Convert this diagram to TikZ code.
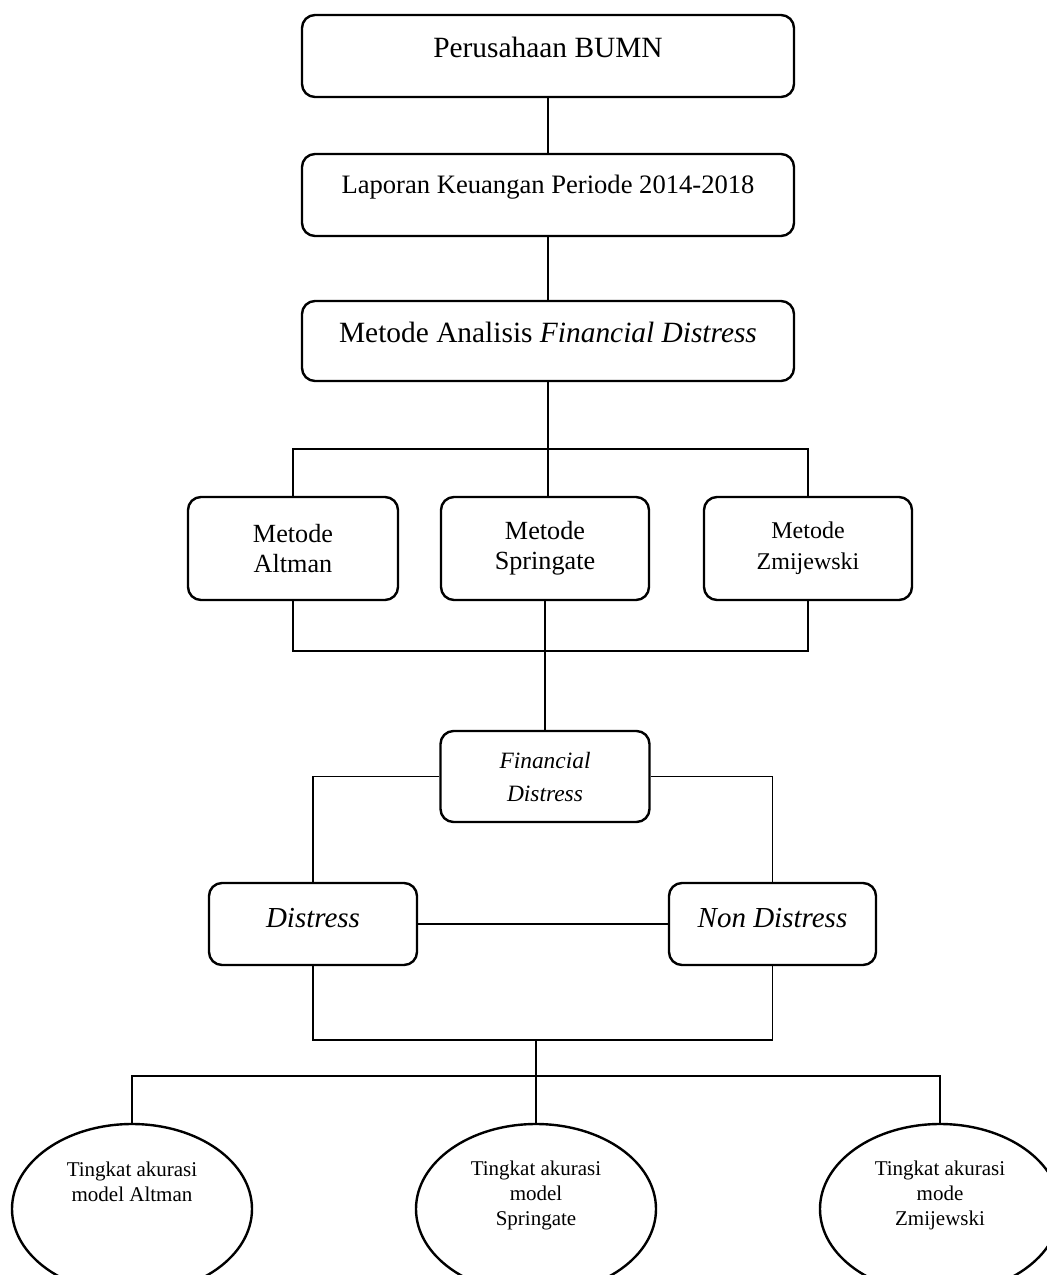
\documentclass[tikz,border=0pt]{standalone}
\usepackage{fontspec}
\setmainfont{Liberation Serif}
\usetikzlibrary{shapes.geometric}
\begin{document}
\begin{tikzpicture}[x=0.5pt,y=-0.5pt,
  box/.style={draw=black,line width=1.2pt,rounded corners=6.5pt,inner sep=0pt,align=center},
  oval/.style={draw=black,line width=1.2pt,ellipse,inner sep=0pt,minimum width=120pt,minimum height=85pt},
  ltext/.style={align=center,font=\fontsize{10.5}{12.5}\selectfont,inner sep=0pt},
  conn/.style={draw=black,line width=0.65pt}]
\useasboundingbox (0,0) rectangle (1047,1275);
\clip (0,0) rectangle (1047,1275);

\node[box,minimum width=246pt,minimum height=41pt,font=\fontsize{14.7}{17}\selectfont,text height=10pt,text depth=8.3pt] (b1) at (548,56) {Perusahaan BUMN};
\node[box,minimum width=246pt,minimum height=41pt,font=\fontsize{13.3}{16}\selectfont,text height=9pt,text depth=10.2pt] (b2) at (548,195) {Laporan Keuangan Periode 2014-2018};
\node[box,minimum width=246pt,minimum height=40pt,font=\fontsize{14.7}{17}\selectfont,text height=10pt,text depth=8.3pt] (b3) at (548,341) {Metode Analisis \textit{Financial Distress}};

\node[box,minimum width=105pt,minimum height=51.5pt,font=\fontsize{13.1}{15}\selectfont] (m1) at (293,548.5) {Metode\\Altman};
\node[box,minimum width=104pt,minimum height=51.5pt,font=\fontsize{13.1}{15}\selectfont] (m2) at (545,548.5) {Metode\\Springate};
\node[box,minimum width=104pt,minimum height=51.5pt,font=\fontsize{12}{15.5}\selectfont] (m3) at (808,548.5) {Metode\\Zmijewski};

\node[box,minimum width=104.5pt,minimum height=45.5pt,font=\fontsize{11.7}{16.5}\selectfont\itshape] (fd) at (545,776.5) {Financial\\Distress};

\node[box,minimum width=104pt,minimum height=41pt,font=\fontsize{14.5}{17}\selectfont\itshape,text height=10pt,text depth=6.4pt] (d1) at (313,924) {Distress};
\node[box,minimum width=103.5pt,minimum height=41pt,font=\fontsize{14.5}{17}\selectfont\itshape,text height=10pt,text depth=6.4pt] (d2) at (772.5,924) {Non Distress};

\node[oval,label={[ltext,yshift=13.5pt]center:Tingkat akurasi\\model Altman}] (e1) at (132,1209) {};
\node[oval,label={[ltext,yshift=7pt]center:Tingkat akurasi\\model\\Springate}] (e2) at (536,1209) {};
\node[oval,label={[ltext,yshift=7pt]center:Tingkat akurasi\\mode\\Zmijewski}] (e3) at (940,1209) {};

\coordinate (j1) at (548,449);
\coordinate (j2) at (545,651);
\coordinate (j3) at (536,1040);
\coordinate (j4) at (536,1076);

\draw[conn] (b1.south) -- (b2.north);
\draw[conn] (b2.south) -- (b3.north);
\draw[conn] (b3.south) -- (j1);
\draw[conn] (m1.north) -- (m1.north |- j1) -- (m3.north |- j1) -- (m3.north);
\draw[conn] (j1) -- (j1 |- m2.north);
\draw[conn] (m1.south) -- (m1.south |- j2) -- (m3.south |- j2) -- (m3.south);
\draw[conn] (m2.south) -- (j2) -- (fd.north);
\draw[conn] (fd.west) -- (fd.west -| d1.north) -- (d1.north);
\draw[conn] (fd.east) -- (fd.east -| d2.north) -- (d2.north);
\draw[conn] (d1.east) -- (d2.west);
\draw[conn] (d1.south) -- (d1.south |- j3) -- (d2.south |- j3) -- (d2.south);
\draw[conn] (j3) -- (j4);
\draw[conn] (e1.north) -- (e1.north |- j4) -- (e3.north |- j4) -- (e3.north);
\draw[conn] (j4) -- (e2.north);
\end{tikzpicture}
\end{document}
